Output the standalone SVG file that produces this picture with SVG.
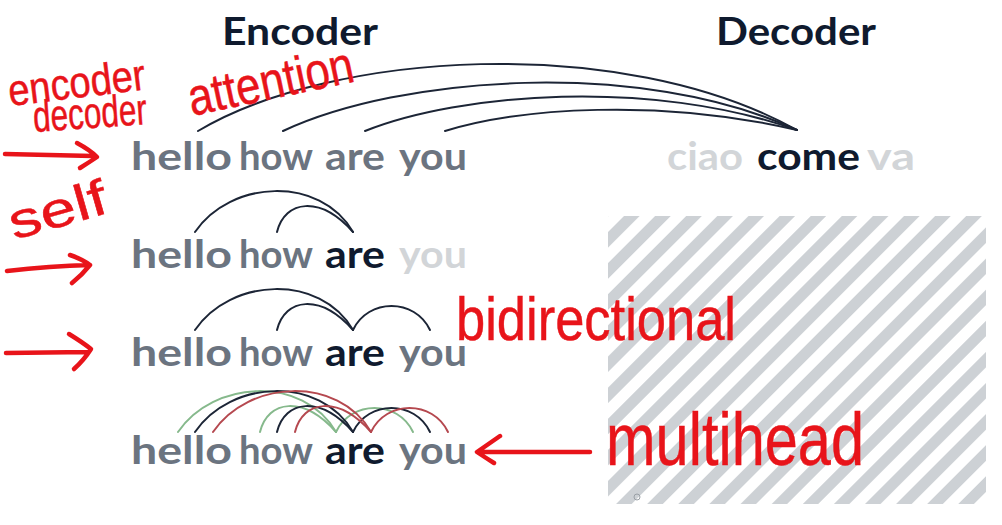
<svg xmlns="http://www.w3.org/2000/svg" width="1002" height="525" viewBox="0 0 1002 525">
  <style>
    .title { font-family: "Lato", "Liberation Sans", sans-serif; font-weight: 700; font-size: 38px; fill: #0f1a2e; }
    .w { font-family: "Lato", "Liberation Sans", sans-serif; font-weight: 700; font-size: 39px; }
    .gray { fill: #6b7480; }
    .dark { fill: #0f1a2e; }
    .light { fill: #d2d5d8; }
    .arc { fill: none; stroke: #1c2536; stroke-width: 2; stroke-linecap: round; }
    .arc-g { fill: none; stroke: #86b98c; stroke-width: 2; stroke-linecap: round; }
    .arc-r { fill: none; stroke: #b5484f; stroke-width: 2; stroke-linecap: round; }
    .hand { font-family: "Liberation Sans", "DejaVu Sans", sans-serif; font-weight: 400; fill: #e8141a; stroke: #e8141a; stroke-width: 0.5; }
    .pen { fill: none; stroke: #e8141a; stroke-width: 4.5; stroke-linecap: round; stroke-linejoin: round; }
  </style>
  <defs>
    <pattern id="stripes" patternUnits="userSpaceOnUse" width="22" height="22" patternTransform="rotate(45)">
      <rect x="0" y="0" width="11" height="22" fill="#cdd1d5"/>
    </pattern>
  </defs>
  <rect width="1002" height="525" fill="#ffffff"/>

  <g id="hatch">
    <rect x="608" y="216" width="378" height="288" fill="url(#stripes)"/>
    <circle cx="637" cy="497" r="3" fill="none" stroke="#9aa0a6" stroke-width="1"/>
  </g>

  <g id="title-encoder"><text class="title" x="222" y="45" textLength="156" lengthAdjust="spacingAndGlyphs">Encoder</text></g>
  <g id="title-decoder"><text class="title" x="716" y="45" textLength="160" lengthAdjust="spacingAndGlyphs">Decoder</text></g>

  <g id="row1">
    <text class="w gray" x="131" y="170" textLength="101" lengthAdjust="spacingAndGlyphs">hello</text>
    <text class="w gray" x="239" y="170" textLength="74" lengthAdjust="spacingAndGlyphs">how</text>
    <text class="w gray" x="325" y="170" textLength="60" lengthAdjust="spacingAndGlyphs">are</text>
    <text class="w gray" x="399" y="170" textLength="68" lengthAdjust="spacingAndGlyphs">you</text>
  </g>
  <g id="decoder-row">
    <text class="w light" x="667" y="170" textLength="76" lengthAdjust="spacingAndGlyphs">ciao</text>
    <text class="w dark" x="757" y="170" textLength="103" lengthAdjust="spacingAndGlyphs">come</text>
    <text class="w light" x="867" y="170" textLength="48" lengthAdjust="spacingAndGlyphs">va</text>
  </g>
  <g id="row2">
    <text class="w gray" x="131" y="268" textLength="101" lengthAdjust="spacingAndGlyphs">hello</text>
    <text class="w gray" x="239" y="268" textLength="74" lengthAdjust="spacingAndGlyphs">how</text>
    <text class="w dark" x="325" y="268" textLength="60" lengthAdjust="spacingAndGlyphs">are</text>
    <text class="w light" x="399" y="268" textLength="68" lengthAdjust="spacingAndGlyphs">you</text>
  </g>
  <g id="row3">
    <text class="w gray" x="131" y="366" textLength="101" lengthAdjust="spacingAndGlyphs">hello</text>
    <text class="w gray" x="239" y="366" textLength="74" lengthAdjust="spacingAndGlyphs">how</text>
    <text class="w dark" x="325" y="366" textLength="60" lengthAdjust="spacingAndGlyphs">are</text>
    <text class="w gray" x="399" y="366" textLength="68" lengthAdjust="spacingAndGlyphs">you</text>
  </g>
  <g id="row4">
    <text class="w gray" x="131" y="464" textLength="101" lengthAdjust="spacingAndGlyphs">hello</text>
    <text class="w gray" x="239" y="464" textLength="74" lengthAdjust="spacingAndGlyphs">how</text>
    <text class="w dark" x="325" y="464" textLength="60" lengthAdjust="spacingAndGlyphs">are</text>
    <text class="w gray" x="399" y="464" textLength="68" lengthAdjust="spacingAndGlyphs">you</text>
  </g>

  <g id="connectors">
    <path class="arc" d="M198,131 C330,52 620,32 797,130"/>
    <path class="arc" d="M283,131 C400,76 640,58 797,130"/>
    <path class="arc" d="M365,131 C460,93 650,78 797,130"/>
    <path class="arc" d="M445,131 C520,108 660,98 797,130"/>
    <path class="arc" d="M195,232 C230,180 320,175 353,232"/>
    <path class="arc" d="M277,232 C285,200 320,195 353,232"/>
    <path class="arc" d="M195,330 C230,278 320,273 353,330"/>
    <path class="arc" d="M277,330 C285,298 320,293 353,330"/>
    <path class="arc" d="M353,330 C368,298 415,298 430,330"/>
    <g transform="translate(-17,0)">
      <path class="arc-g" d="M195,432 C230,380 320,375 353,432"/>
      <path class="arc-g" d="M277,432 C285,400 320,395 353,432"/>
      <path class="arc-g" d="M353,432 C368,400 415,400 430,432"/>
    </g>
    <g>
      <path class="arc" d="M195,432 C230,380 320,375 353,432"/>
      <path class="arc" d="M277,432 C285,400 320,395 353,432"/>
      <path class="arc" d="M353,432 C368,400 415,400 430,432"/>
    </g>
    <g transform="translate(18,0)">
      <path class="arc-r" d="M195,432 C230,380 320,375 353,432"/>
      <path class="arc-r" d="M277,432 C285,400 320,395 353,432"/>
      <path class="arc-r" d="M353,432 C368,400 415,400 430,432"/>
    </g>
  </g>

  <g id="annotations">
    <text class="hand" x="10" y="106" font-size="44" textLength="138" lengthAdjust="spacingAndGlyphs" transform="rotate(-7 10 106)">encoder</text>
    <text class="hand" x="34" y="132" font-size="44" textLength="114" lengthAdjust="spacingAndGlyphs" transform="rotate(-4 34 132)">decoder</text>
    <text class="hand" x="192" y="116" font-size="52" textLength="168" lengthAdjust="spacingAndGlyphs" transform="rotate(-12 192 116)">attention</text>
    <text class="hand" x="14" y="240" font-size="50" textLength="100" lengthAdjust="spacingAndGlyphs" transform="rotate(-16 14 240)">self</text>
    <text class="hand" x="456" y="340" font-size="62" textLength="280" lengthAdjust="spacingAndGlyphs">bidirectional</text>
    <text class="hand" x="606" y="465" font-size="74" textLength="258" lengthAdjust="spacingAndGlyphs">multihead</text>
    <path class="pen" d="M5,154 L93,156 M77,143 Q90,150 97,157 Q88,163 80,168"/>
    <path class="pen" d="M7,271 Q50,266 90,265 M70,255 Q82,259 90,265 Q82,275 72,283"/>
    <path class="pen" d="M6,353 L88,352 M69,334 Q82,342 91,349 Q84,360 74,369"/>
    <path class="pen" d="M590,452 L481,452 M500,436 Q487,445 477,452 Q486,458 494,463"/>
  </g>
</svg>
